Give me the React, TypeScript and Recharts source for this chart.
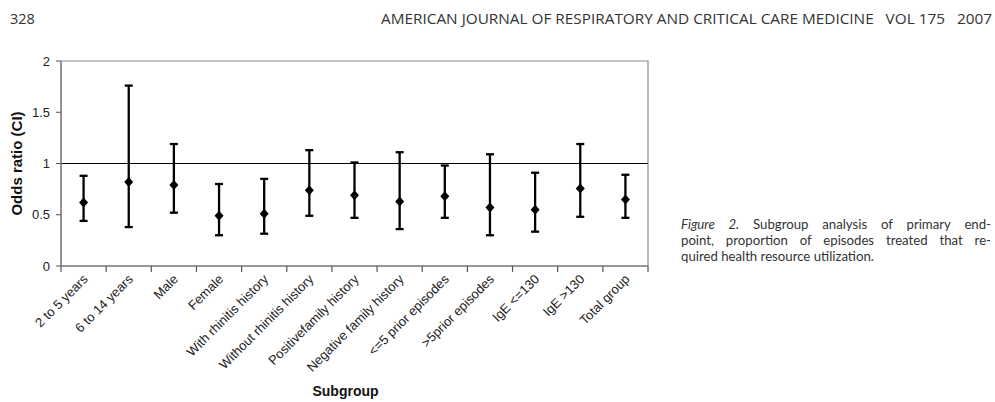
import React from 'react';
import {
  ComposedChart,
  Scatter,
  ErrorBar,
  XAxis,
  YAxis,
  ReferenceLine,
  ReferenceArea,
} from 'recharts';

const subgroups = [
  '2 to 5 years',
  '6 to 14 years',
  'Male',
  'Female',
  'With rhinitis history',
  'Without rhinitis history',
  'Positivefamily history',
  'Negative family history',
  '<=5 prior episodes',
  '>5prior episodes',
  'IgE <=130',
  'IgE >130',
  'Total group',
];
const oddsRatio = [0.62, 0.82, 0.79, 0.49, 0.51, 0.74, 0.69, 0.63, 0.68, 0.57, 0.55, 0.755, 0.65];
const ciLower = [0.44, 0.38, 0.52, 0.30, 0.315, 0.49, 0.47, 0.36, 0.47, 0.30, 0.335, 0.48, 0.47];
const ciUpper = [0.88, 1.76, 1.19, 0.80, 0.85, 1.13, 1.01, 1.11, 0.98, 1.09, 0.91, 1.19, 0.89];
const yTicks = [0, 0.5, 1, 1.5, 2];

const data = subgroups.map((name, i) => ({
  name,
  x: i + 0.5,
  or: oddsRatio[i],
  err: [oddsRatio[i] - ciLower[i], ciUpper[i] - oddsRatio[i]],
}));

// ticks at category edges (integers) and centres (halves)
const xTicks: number[] = [];
for (let i = 0; i <= subgroups.length * 2; i++) xTicks.push(i / 2);

const FONT = '"Liberation Sans", Arial, sans-serif';
const PAGE_FONT = '"Open Sans", "Noto Sans", sans-serif';
const CAPTION_FONT = 'Lato, "Open Sans", sans-serif';

const SubgroupTick = ({ x, y, payload }: any) => {
  const v = payload.value;
  if (Number.isInteger(v)) {
    return <line x1={x} y1={y} x2={x} y2={y + 6} stroke="#555" strokeWidth={1.2} />;
  }
  return (
    <text
      transform={`translate(${x + 5},${y + 14}) rotate(-45)`}
      textAnchor="end"
      fontSize={13}
      fontFamily={FONT}
      fill="#222"
    >
      {subgroups[Math.floor(v)]}
    </text>
  );
};

const Diamond = ({ cx, cy }: any) => (
  <polygon points={`${cx},${cy - 5} ${cx + 4.5},${cy} ${cx},${cy + 5} ${cx - 4.5},${cy}`} fill="#000" />
);

export default function App() {
  return (
    <div style={{ position: 'absolute', left: 0, top: 0, width: 995, height: 402, background: '#fff' }}>
      {/* running head */}
      <svg width={995} height={30} style={{ position: 'absolute', left: 0, top: 0 }}>
        <text x={10} y={24} fontSize={14.5} fontFamily={PAGE_FONT} fill="#333">
          328
        </text>
        <text
          x={381}
          y={24}
          fontSize={14.5}
          fontFamily={PAGE_FONT}
          fill="#333"
          textLength={611}
          lengthAdjust="spacingAndGlyphs"
          style={{ whiteSpace: 'pre' }}
        >
          {'AMERICAN JOURNAL OF RESPIRATORY AND CRITICAL CARE MEDICINE   VOL 175   2007'}
        </text>
      </svg>

      <div style={{ position: 'absolute', left: 0, top: 0 }}>
        <ComposedChart
          width={700}
          height={402}
          data={data}
          margin={{ top: 61, right: 52, left: 0, bottom: 0 }}
        >
          <XAxis
            type="number"
            dataKey="x"
            domain={[0, subgroups.length]}
            ticks={xTicks}
            interval={0}
            tickLine={false}
            tickSize={0}
            tickMargin={0}
            axisLine={{ stroke: '#888', strokeWidth: 1.5 }}
            tick={<SubgroupTick />}
            height={136}
            label={{
              value: 'Subgroup',
              position: 'insideBottom',
              offset: 6,
              dx: -9,
              fontSize: 14,
              fontWeight: 'bold',
              fontFamily: FONT,
              fill: '#111',
            }}
          />
          <YAxis
            type="number"
            dataKey="or"
            domain={[0, 2]}
            ticks={yTicks}
            width={61}
            tickSize={5}
            tickMargin={6}
            tickLine={{ stroke: '#555' }}
            axisLine={{ stroke: '#888', strokeWidth: 1.5 }}
            tick={{ fontSize: 13, fontFamily: FONT, fill: '#222' }}
            label={{
              value: 'Odds ratio (CI)',
              angle: -90,
              position: 'insideLeft',
              offset: 17,
              fontSize: 15,
              fontWeight: 'bold',
              fontFamily: FONT,
              fill: '#111',
              style: { textAnchor: 'middle' },
            }}
          />
          <ReferenceArea y1={0} y2={2} fill="none" stroke="#888" strokeWidth={1.2} />
          <ReferenceLine y={1} stroke="#000" strokeWidth={1.2} />
          <Scatter dataKey="or" shape={<Diamond />} isAnimationActive={false}>
            <ErrorBar dataKey="err" direction="y" width={4} strokeWidth={2.3} stroke="#000" />
          </Scatter>
        </ComposedChart>
      </div>

      <div
        style={{
          position: 'absolute',
          left: 681,
          top: 216,
          width: 310,
          fontSize: 13.2,
          lineHeight: '16px',
          fontFamily: CAPTION_FONT,
          color: '#333',
        }}
      >
        <div style={{ textAlign: 'justify', textAlignLast: 'justify' }}>
          <i>Figure 2.</i> Subgroup analysis of primary end-
        </div>
        <div style={{ textAlign: 'justify', textAlignLast: 'justify' }}>
          point, proportion of episodes treated that re-
        </div>
        <div>quired health resource utilization.</div>
      </div>
    </div>
  );
}
